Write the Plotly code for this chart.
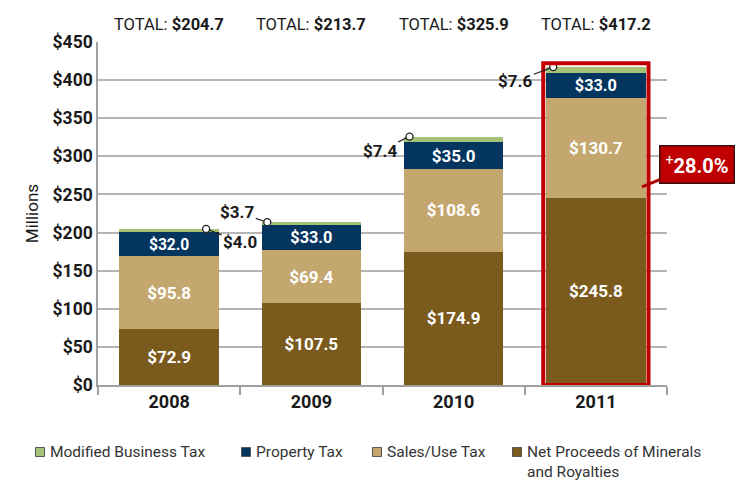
import plotly.graph_objects as go

years = ["2008", "2009", "2010", "2011"]
net_proceeds = [72.9, 107.5, 174.9, 245.8]
sales_use = [95.8, 69.4, 108.6, 130.7]
property_tax = [32.0, 33.0, 35.0, 33.0]
modified_business = [4.0, 3.7, 7.4, 7.6]
totals = [204.7, 213.7, 325.9, 417.2]
growth_label = "28.0%"

FONT = "Roboto, Liberation Sans, sans-serif"
xs = list(range(len(years)))

C_NET = "#7b5a1e"
C_SALES = "#c4a76f"
C_PROP = "#04355f"
C_MBT = "#a4c276"

fig = go.Figure()

def add_bar(name, vals, color, show_text=True):
    fig.add_trace(go.Bar(
        x=xs, y=vals, name=name, width=0.7,
        marker=dict(color=color, line=dict(width=0)),
        text=[f"${v:.1f}" for v in vals] if show_text else None,
        textposition="inside" if show_text else "none",
        insidetextanchor="middle",
        textfont=dict(family=FONT, size=17, color="white", weight="bold"),
        hoverinfo="skip", showlegend=False,
    ))

add_bar("Net Proceeds of Minerals and Royalties", net_proceeds, C_NET)
add_bar("Sales/Use Tax", sales_use, C_SALES)
add_bar("Property Tax", property_tax, C_PROP)
add_bar("Modified Business Tax", modified_business, C_MBT, show_text=False)

# open circles at leader points
offsets = [0.26, -0.31, -0.31, -0.30]
stack_tops = [n + s + p + m for n, s, p, m in zip(net_proceeds, sales_use, property_tax, modified_business)]
fig.add_trace(go.Scatter(
    x=[x + o for x, o in zip(xs, offsets)], y=stack_tops, mode="markers",
    marker=dict(symbol="circle", size=7, color="white", line=dict(color="#222", width=1.3)),
    showlegend=False, hoverinfo="skip",
))

annotations = []
shapes = []
# totals
for x, t in zip(xs, totals):
    annotations.append(dict(
        x=x, y=1, xref="x", yref="paper", yanchor="bottom", yshift=6,
        text=f"TOTAL: <b>${t:.1f}</b>", showarrow=False,
        font=dict(family=FONT, size=16.5, color="#1a1a1a"),
    ))

# MBT leader labels
label_offsets = [(34, 13), (-30, -10), (-30, 14), (-38, 14)]
for x, o, top, m, (ax, ay) in zip(xs, offsets, stack_tops, modified_business, label_offsets):
    annotations.append(dict(
        x=x + o, y=top, xref="x", yref="y",
        text=f"<b>${m:.1f}</b>", showarrow=True, arrowhead=0, arrowwidth=1.2,
        arrowcolor="#222", ax=ax, ay=ay, standoff=3,
        font=dict(family=FONT, size=17, color="#1a1a1a"),
    ))

# growth callout
annotations.append(dict(
    x=3 + 0.324, y=260, xref="x", yref="y",
    text="<sup>+</sup><b>" + growth_label + "</b>", showarrow=True, arrowhead=0,
    arrowwidth=3, arrowcolor="#b00000", ax=55, ay=-22,
    bgcolor="#c00000", bordercolor="#3a1010", borderwidth=1.5, borderpad=5,
    font=dict(family=FONT, size=20, color="white"),
))

# highlight box around 2011
shapes.append(dict(
    type="rect", xref="x", yref="y",
    x0=3 - 0.37, x1=3 + 0.37, y0=0, y1=totals[3] + 5,
    line=dict(color="#c00000", width=4), fillcolor="rgba(0,0,0,0)",
))

# manual legend (single row, like the reference)
PLOT_L, PLOT_W, PLOT_B, PLOT_H = 98, 569, 385, 343
legend_names = ["Modified Business Tax", "Property Tax", "Sales/Use Tax",
                "Net Proceeds of Minerals<br>and Royalties"]
legend_colors = [C_MBT, C_PROP, C_SALES, C_NET]
legend_px = [40, 246, 377, 517]
legend_py = 452
for name, col, px in zip(legend_names, legend_colors, legend_px):
    xa = (px - PLOT_L) / PLOT_W
    ya = (PLOT_B - legend_py) / PLOT_H
    shapes.append(dict(
        type="rect", xref="paper", yref="paper",
        xsizemode="pixel", ysizemode="pixel", xanchor=xa, yanchor=ya,
        x0=-4.5, x1=4.5, y0=-4.5, y1=4.5,
        fillcolor=col, line=dict(color="#555", width=1),
    ))
    annotations.append(dict(
        x=xa, y=ya, xref="paper", yref="paper", xanchor="left", yanchor="top",
        xshift=8, yshift=11, align="left", showarrow=False,
        text=name, font=dict(family=FONT, size=15.5, color="#333"),
    ))

fig.update_layout(
    width=736, height=482,
    margin=dict(l=98, r=69, t=42, b=97, autoexpand=False),
    paper_bgcolor="white", plot_bgcolor="white",
    barmode="stack",
    bargap=0.3,
    annotations=annotations,
    shapes=shapes,
    showlegend=False,
)

fig.update_xaxes(
    range=[-0.5, 3.5], tickvals=xs, ticktext=years,
    ticks="", showgrid=False, zeroline=False, automargin=False,
    showline=True, linecolor="#a0a0a0", linewidth=1.5,
    tickfont=dict(family=FONT, size=18, color="#1a1a1a", weight="bold"),
    minor=dict(tickvals=[-0.5, 0.5, 1.5, 2.5, 3.5], ticks="outside", ticklen=8,
               tickcolor="#a0a0a0", tickwidth=1.5, showgrid=False),
)
fig.update_yaxes(
    range=[0, 450], tickvals=list(range(0, 451, 50)),
    ticktext=[f"${v}" for v in range(0, 451, 50)],
    showgrid=True, gridcolor="#b5b5b5", gridwidth=1.5, zeroline=False,
    showline=True, linecolor="#a0a0a0", linewidth=1.5, ticks="", automargin=False,
    tickfont=dict(family=FONT, size=17.5, color="#1a1a1a", weight="bold"),
    title=dict(text="Millions", font=dict(family=FONT, size=17, color="#1a1a1a"), standoff=10),
)

fig.write_html("out.html", config={"displayModeBar": False},
               post_script="document.body.style.margin='0';")
